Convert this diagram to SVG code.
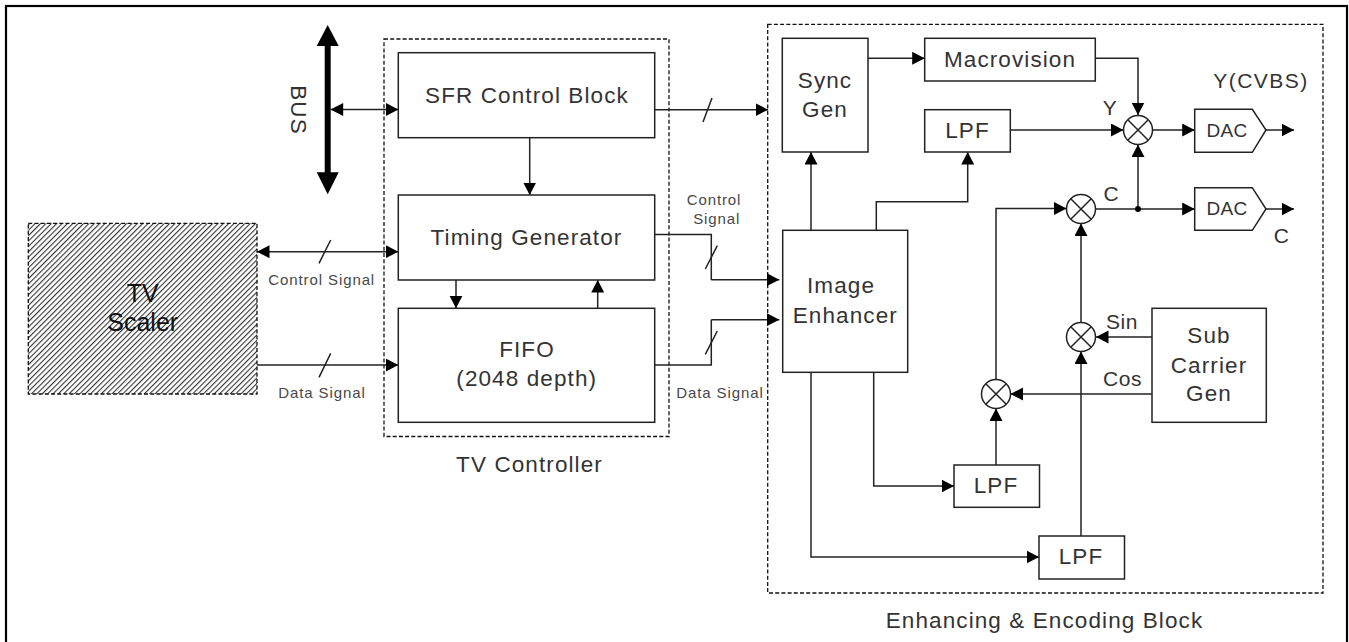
<svg xmlns="http://www.w3.org/2000/svg" width="1349" height="642" viewBox="0 0 1349 642">
<style>
.b{fill:#fff;stroke:#222;stroke-width:1.5}
.d{fill:none;stroke:#111;stroke-width:1.3;stroke-dasharray:4 2.2}
.c{fill:none;stroke:#222;stroke-width:1.5}
.a{marker-end:url(#ah)}
.s{marker-start:url(#as);marker-end:url(#ah)}
text{font-family:"Liberation Sans",Arial,sans-serif;fill:#333;text-anchor:middle}
.t{font-size:22.500px;letter-spacing:1.1px}
.m{font-size:19px;letter-spacing:.3px}
.n{font-size:21px;letter-spacing:.6px}
.l{font-size:15px;letter-spacing:.9px;fill:#484848}
</style>
<defs>
<marker id="ah" markerUnits="userSpaceOnUse" markerWidth="14" markerHeight="14" refX="12.500" refY="6.500" orient="auto"><path d="M0 0L12.500 6.500L0 13z" fill="#000"/></marker>
<marker id="as" markerUnits="userSpaceOnUse" markerWidth="14" markerHeight="14" refX="0" refY="6.500" orient="auto"><path d="M12.500 0L0 6.500L12.500 13z" fill="#000"/></marker>
<pattern id="h" patternUnits="userSpaceOnUse" width="3.800" height="3.800" patternTransform="rotate(-45)"><rect width="3.800" height="3.800" fill="#fff"/><rect width="3.800" height="1.100" fill="#333"/></pattern>
</defs>
<rect x="6" y="6" width="1341" height="650" fill="#fff" stroke="#000" stroke-width="2.200"/>
<g id="tv-controller"><rect class="d" x="384" y="39" width="285" height="397.500"/><text class="t" x="529.500" y="472">TV Controller</text></g>
<g id="enhancing-block"><rect class="d" x="767.700" y="24.300" width="555.300" height="568.700"/><text class="t" x="1044.500" y="628">Enhancing &amp; Encoding Block</text></g>
<g id="connectors">
<path d="M327.700 45V174" stroke="#000" stroke-width="6" fill="none"/>
<path d="M327.700 25L338.700 46H316.700zM327.700 194.300L338.700 172.300H316.700z" fill="#000"/>
<path class="c s" d="M330.700 109.500H398.300"/>
<path class="c s" d="M257 251.700H398.300"/>
<path class="c a" d="M257 365H398.300"/>
<path class="c" d="M319 263.300L330.700 240M319 377.300L330.700 353.300"/>
<path class="c a" d="M529.700 137.700V195"/>
<path class="c a" d="M456 280V308.300"/>
<path class="c a" d="M597.700 308.300V280"/>
<path class="c" d="M654.700 234.500H711.300V280"/>
<path class="c a" d="M711.300 279.700H779.300"/>
<path class="c" d="M654.700 365H711.300V319.700"/>
<path class="c a" d="M711.300 319.700H779.300"/>
<path class="c" d="M705.300 269L717.300 245.700M705.300 354.300L717.300 331M703 122L712 98"/>
<path class="c a" d="M654.700 109.700H768"/>
<path class="c a" d="M811 230.300V152"/>
<path class="c a" d="M868 58.300H924.700"/>
<path class="c a" d="M1095.300 58.300H1138V115"/>
<path class="c a" d="M876.300 230.300V201.700H967.700V152"/>
<path class="c a" d="M1010.300 130H1123.500"/>
<path class="c a" d="M1152.500 130H1194.700"/>
<path class="c a" d="M1266 130H1294"/>
<path class="c a" d="M1138 209V144.500"/>
<path class="c a" d="M1095.500 209H1194.700"/>
<path class="c a" d="M1266 209H1294"/>
<circle cx="1138" cy="209" r="3" fill="#000"/>
<path class="c a" d="M996 380V208.500H1066.500"/>
<path class="c a" d="M1081 322V223.500"/>
<path class="c a" d="M1081 536V351.500"/>
<path class="c a" d="M1152 337H1096"/>
<path class="c a" d="M1152 394H1010.500"/>
<path class="c a" d="M996 465V408.500"/>
<path class="c a" d="M873.700 372.300V486H954"/>
<path class="c a" d="M811 372.300V557H1039"/>
</g>
<g id="tv-scaler"><rect x="28.300" y="223.300" width="228.700" height="170.700" fill="url(#h)" stroke="#111" stroke-width="1.300" stroke-dasharray="4 2.200"/><text x="142.700" y="302" font-size="25" style="fill:#111">TV</text><text x="142.700" y="331" font-size="25" style="fill:#111">Scaler</text></g>
<g id="sfr"><rect class="b" x="398.300" y="52.700" width="256.400" height="85"/><text class="t" x="527" y="102.700">SFR Control Block</text></g>
<g id="timing"><rect class="b" x="398.300" y="195" width="256.400" height="85"/><text class="t" x="526.500" y="245">Timing Generator</text></g>
<g id="fifo"><rect class="b" x="398.300" y="308.300" width="256.400" height="114"/><text class="t" x="527" y="357">FIFO</text><text class="t" x="526.700" y="386">(2048 depth)</text></g>
<g id="sync-gen"><rect class="b" x="782.300" y="38.300" width="85.700" height="113.700"/><text class="t" x="825" y="87.700">Sync</text><text class="t" x="825" y="116.700">Gen</text></g>
<g id="macrovision"><rect class="b" x="924.700" y="38.300" width="170.600" height="42.700"/><text class="t" x="1010" y="66.700">Macrovision</text></g>
<g id="lpf-top"><rect class="b" x="924.700" y="109.700" width="85.600" height="42.300"/><text class="t" x="967.500" y="137.700">LPF</text></g>
<g id="image-enhancer"><rect class="b" x="782.700" y="230.300" width="125" height="142"/><text class="t" x="841" y="293">Image</text><text class="t" x="845.300" y="322.700">Enhancer</text></g>
<g id="sub-carrier"><rect class="b" x="1152" y="308.300" width="114.300" height="114"/><text class="t" x="1209" y="343.300">Sub</text><text class="t" x="1209" y="372.700">Carrier</text><text class="t" x="1209" y="401">Gen</text></g>
<g id="lpf-mid"><rect class="b" x="954" y="465" width="85.500" height="42.300"/><text class="t" x="996" y="493">LPF</text></g>
<g id="lpf-bottom"><rect class="b" x="1039" y="536" width="85.500" height="43"/><text class="t" x="1081" y="564">LPF</text></g>
<g id="dac-y"><path class="b" d="M1194.700 109.300H1252.300L1266 130L1252.300 152.300H1194.700z"/><text class="m" x="1227" y="136.700">DAC</text></g>
<g id="dac-c"><path class="b" d="M1194.700 187.700H1252.300L1266 209L1252.300 230.300H1194.700z"/><text class="m" x="1227" y="215">DAC</text></g>
<g id="mixers">
<g id="mix-y"><circle class="b" cx="1138" cy="130" r="14.500"/><path class="c" d="M1128 120L1148 140M1148 120L1128 140"/></g>
<g id="mix-c"><circle class="b" cx="1081" cy="209" r="14.500"/><path class="c" d="M1071 199L1091 219M1091 199L1071 219"/></g>
<g id="mix-sin"><circle class="b" cx="1081" cy="337" r="14.500"/><path class="c" d="M1071 327L1091 347M1091 327L1071 347"/></g>
<g id="mix-cos"><circle class="b" cx="996" cy="394" r="14.500"/><path class="c" d="M986 384L1006 404M1006 384L986 404"/></g>
</g>
<g id="labels">
<text class="t" transform="translate(291 110) rotate(90)">BUS</text>
<text class="l" x="321.700" y="285">Control Signal</text>
<text class="l" x="322" y="398.300">Data Signal</text>
<text class="l" x="714" y="205">Control</text>
<text class="l" x="716.700" y="224">Signal</text>
<text class="l" x="720" y="398.300">Data Signal</text>
<text x="1261" y="88.300" font-size="21" letter-spacing="1.500">Y(CVBS)</text>
<text class="n" x="1110" y="115">Y</text>
<text class="n" x="1111.300" y="201">C</text>
<text class="n" x="1281.700" y="242.700">C</text>
<text class="n" x="1122" y="329.300">Sin</text>
<text class="n" x="1122.500" y="385.700">Cos</text>
</g>
</svg>
